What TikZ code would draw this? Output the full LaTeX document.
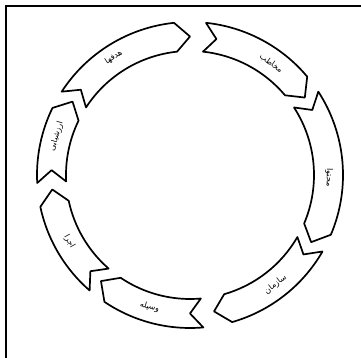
\documentclass[tikz,border=0pt]{standalone}
\usepackage{fontspec}
\newfontfamily\arabicfont[Script=Arabic]{DejaVu Sans}
\TeXXeTstate=1
\tikzset{
  band/.style={draw=black, line width=1.7pt, line join=round, fill=white},
  lbl/.style={font=\arabicfont\fontsize{8}{9}\selectfont, inner sep=0pt},
  frameline/.style={line width=2.6pt}
}
\begin{document}
\begin{tikzpicture}
\useasboundingbox (0,0) rectangle (361pt,358pt);
\draw[frameline] (6pt,0pt) -- (6pt,352pt) -- (361pt,352pt);
\begin{scope}[shift={(190pt,183pt)}]
\foreach \a/\b [count=\i, evaluate=\a as \an using \a-5, evaluate=\b as \bh using \b+6] in
  {147/90, 84/34, 33/-29, -30/-80, -85/-130, -131/-174, 183/148}{
  \draw[band] (\a:153pt) arc[start angle=\a, end angle=\bh, radius=153pt]
     -- (\b:138.5pt) -- (\bh:124pt)
     arc[start angle=\bh, end angle=\a, radius=124pt]
     -- (\an:138.5pt) -- cycle;
}
\node[lbl, rotate=33]  (t1) at (123:140pt) {\beginR هدفها\endR};
\node[lbl, rotate=-36] (t2) at (54:138pt)  {\beginR مخاطب\endR};
\node[lbl, rotate=-91] (t3) at (-1:139pt)  {\beginR محتوا\endR};
\node[lbl, rotate=38]  (t4) at (-52:139pt) {\beginR سازمان\endR};
\node[lbl, rotate=-17] (t5) at (-107:138pt) {\beginR وسیله\endR};
\node[lbl, rotate=-61] (t6) at (-151:138pt) {\beginR اجرا\endR};
\node[lbl, rotate=73]  (t7) at (164:139pt) {\beginR ارزشیابی\endR};
\end{scope}
\end{tikzpicture}
\end{document}
